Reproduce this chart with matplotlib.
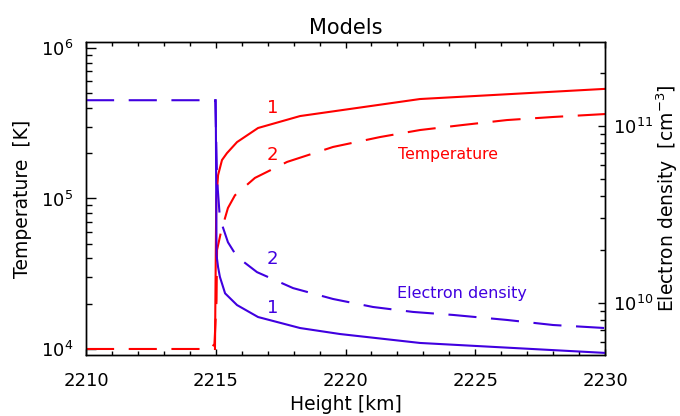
import matplotlib
matplotlib.use("Agg")
import matplotlib.pyplot as plt
from matplotlib.ticker import MultipleLocator, NullFormatter, LogLocator

plt.rcParams['font.family'] = ['DejaVu Sans']
plt.rcParams['mathtext.fontset'] = 'dejavusans'

# ---- data ----
# Temperature, model 1 (solid red)
h_T1 = [2214.97, 2215.00, 2215.02, 2215.09, 2215.24, 2215.43, 2215.82, 2216.63, 2218.25, 2222.87, 2230.0]
T1 = [1.0e4, 4.0e4, 9.8e4, 1.43e5, 1.80e5, 2.00e5, 2.37e5, 2.94e5, 3.53e5, 4.58e5, 5.35e5]

# Temperature, model 2 (dashed red)
h_T2 = [2210.0, 2214.80, 2214.95, 2215.03, 2215.05, 2215.20, 2215.47, 2215.74, 2216.51,
        2217.75, 2219.52, 2221.33, 2222.87, 2224.53, 2226.22, 2228.0, 2230.0]
T2 = [1.0e4, 1.0e4, 1.08e4, 2.1e4, 4.55e4, 5.98e4, 8.65e4, 1.05e5, 1.37e5,
      1.75e5, 2.20e5, 2.56e5, 2.85e5, 3.08e5, 3.32e5, 3.48e5, 3.64e5]

# Electron density, model 1 (solid blue)
h_n1 = [2215.00, 2215.03, 2215.09, 2215.16, 2215.36, 2215.82, 2216.63, 2218.25, 2219.79, 2222.87, 2230.0]
n1 = [1.40e11, 1.86e10, 1.59e10, 1.40e10, 1.13e10, 9.7e9, 8.3e9, 7.19e9, 6.65e9, 5.92e9, 5.2e9]

# Electron density, model 2 (dashed blue)
h_n2 = [2210.0, 2214.98, 2215.02, 2215.05, 2215.16, 2215.47, 2215.82, 2216.59, 2217.98,
        2219.52, 2221.06, 2222.6, 2224.14, 2226.22, 2228.0, 2230.0]
n2 = [1.40e11, 1.40e11, 8.0e10, 5.0e10, 3.0e10, 2.2e10, 1.82e10, 1.49e10, 1.21e10,
      1.05e10, 9.46e9, 8.87e9, 8.53e9, 7.99e9, 7.48e9, 7.19e9]

RED = '#ff0000'
BLUE = '#4000e0'

fig = plt.figure(figsize=(6.8, 4.16), dpi=100)
ax = fig.add_axes([86/680, 1-355/416, 519/680, 313/416])
ax2 = ax.twinx()

lw = 1.5
dash = (13.5, 7)
ax.plot(h_T1, T1, color=RED, lw=lw, solid_joinstyle='miter')
ax.plot(h_T2, T2, color=RED, lw=lw, dashes=dash)
ax2.plot(h_n1, n1, color=BLUE, lw=lw)
ax2.plot(h_n2, n2, color=BLUE, lw=lw, dashes=dash)

ax.set_xlim(2210, 2230)
ax.set_yscale('log')
ax.set_ylim(9.12e3, 1.096e6)
ax2.set_yscale('log')
ax2.set_ylim(5.06e9, 2.99e11)

ax.xaxis.set_major_locator(MultipleLocator(5))
ax.xaxis.set_minor_locator(MultipleLocator(1))
for a in (ax, ax2):
    a.yaxis.set_minor_locator(LogLocator(base=10, subs=range(2, 10)))
    a.yaxis.set_minor_formatter(NullFormatter())

ax.tick_params(axis='x', which='both', direction='in', top=True, bottom=True,
               labelsize=13, pad=12.5)
ax.tick_params(axis='x', which='major', length=4.5, width=1)
ax.tick_params(axis='x', which='minor', length=2.6, width=1)
ax.tick_params(axis='y', which='both', direction='in', left=True, right=False,
               labelsize=13, pad=9.4)
ax.tick_params(axis='y', which='major', length=7.2, width=1)
ax.tick_params(axis='y', which='minor', length=4.0, width=1)
ax2.tick_params(axis='y', which='both', direction='in', right=True, left=False,
                labelsize=13, pad=5.8)
ax2.tick_params(axis='y', which='major', length=5.4, width=1)
ax2.tick_params(axis='y', which='minor', length=3.6, width=1)

for a in (ax, ax2):
    for s in a.spines.values():
        s.set_linewidth(1.0)

ax.set_title('Models', fontsize=15, pad=6)
ax.set_xlabel('Height [km]', fontsize=13.5)
ax.xaxis.label.set_verticalalignment('center')
ax.xaxis.set_label_coords(0.5, -0.157)
ax.set_ylabel('Temperature  [K]', fontsize=13.5)
ax.yaxis.label.set_verticalalignment('center')
ax.yaxis.set_label_coords(-0.122, 0.5)
ax2.set_ylabel('Electron density  [cm$^{-3}$]', fontsize=13.5)
ax2.yaxis.label.set_verticalalignment('center')
ax2.yaxis.set_label_coords(1.119, 0.5)

ax.text(0.6975, 0.642, 'Temperature', color=RED, fontsize=11.3,
        ha='center', va='center', transform=ax.transAxes)
ax.text(0.7245, 0.195, 'Electron density', color=BLUE, fontsize=11.5,
        ha='center', va='center', transform=ax.transAxes)
ax.text(0.360, 0.789, '1', color=RED, fontsize=13, ha='center', va='center', transform=ax.transAxes)
ax.text(0.360, 0.639, '2', color=RED, fontsize=13, ha='center', va='center', transform=ax.transAxes)
ax.text(0.360, 0.307, '2', color=BLUE, fontsize=13, ha='center', va='center', transform=ax.transAxes)
ax.text(0.360, 0.150, '1', color=BLUE, fontsize=13, ha='center', va='center', transform=ax.transAxes)

fig.savefig('out.png', dpi=100)
